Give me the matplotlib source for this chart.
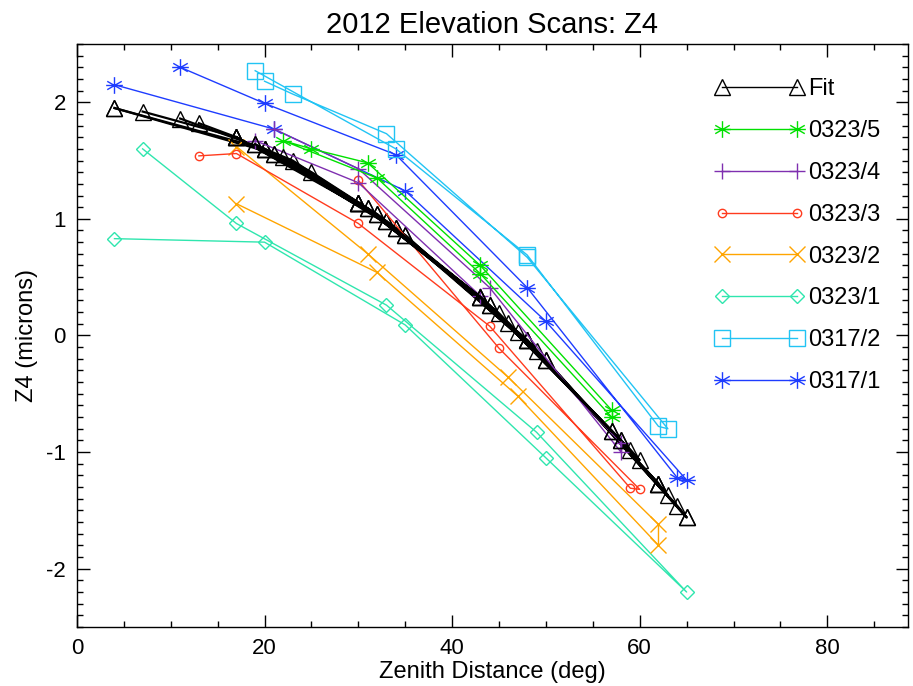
import matplotlib
matplotlib.use('Agg')
import matplotlib.pyplot as plt
from matplotlib.path import Path
from matplotlib.lines import Line2D
from matplotlib.legend_handler import HandlerLine2D

plt.rcParams['font.family'] = ['Liberation Sans', 'DejaVu Sans']
plt.rcParams['axes.unicode_minus'] = False

# fit values read at each zenith distance
fit_x = [4, 7, 11, 13, 17, 19, 20, 21, 22, 23, 25, 30, 31, 32, 33, 34, 35,
         43, 44, 45, 46, 47, 48, 49, 50, 57, 58, 59, 60, 62, 63, 64, 65]
fit_y = [1.95, 1.92, 1.86, 1.82, 1.70, 1.64, 1.60, 1.56, 1.53, 1.50, 1.40,
         1.14, 1.09, 1.04, 0.98, 0.92, 0.86, 0.33, 0.26, 0.19, 0.11, 0.03,
         -0.04, -0.13, -0.21, -0.82, -0.90, -0.98, -1.07, -1.27, -1.37,
         -1.46, -1.56]

# scans (points in acquisition order)
s0317_1_x = [4, 21, 35, 50, 65, 64, 48, 34, 20, 11]
s0317_1_y = [2.15, 1.77, 1.24, 0.12, -1.24, -1.22, 0.41, 1.55, 1.99, 2.30]

s0317_2_x = [19, 34, 48, 62, 63, 48, 33, 23, 20]
s0317_2_y = [2.27, 1.60, 0.69, -0.78, -0.80, 0.67, 1.73, 2.07, 2.18]

s0323_1_x = [7, 17, 33, 49, 65, 50, 35, 20, 4]
s0323_1_y = [1.60, 0.96, 0.26, -0.83, -2.20, -1.05, 0.09, 0.80, 0.83]

s0323_2_x = [17, 31, 46, 62, 62, 47, 32, 17]
s0323_2_y = [1.62, 0.70, -0.36, -1.62, -1.80, -0.52, 0.54, 1.13]

s0323_3_x = [13, 17, 30, 44, 59, 60, 45, 30]
s0323_3_y = [1.54, 1.56, 0.96, 0.08, -1.31, -1.32, -0.11, 1.33]

s0323_4_x = [19, 30, 43, 58, 58, 44, 30, 21]
s0323_4_y = [1.67, 1.31, 0.34, -0.92, -1.00, 0.41, 1.43, 1.77]

s0323_5_x = [57, 43, 31, 25, 22, 32, 43, 57]
s0323_5_y = [-0.64, 0.60, 1.48, 1.60, 1.67, 1.35, 0.53, -0.70]

# IDL style asterisk
ast = Path([(0, -1), (0, 1), (-0.87, -0.5), (0.87, 0.5), (-0.87, 0.5), (0.87, -0.5),
            (-1, 0), (1, 0)],
           [Path.MOVETO, Path.LINETO, Path.MOVETO, Path.LINETO, Path.MOVETO, Path.LINETO,
            Path.MOVETO, Path.LINETO])

scans = [
    ('0317/1', s0317_1_x, s0317_1_y, '#1E3CFF', ast, 12),
    ('0317/2', s0317_2_x, s0317_2_y, '#22C4F4', 's', 11),
    ('0323/1', s0323_1_x, s0323_1_y, '#2FE6AE', 'D', 7),
    ('0323/2', s0323_2_x, s0323_2_y, '#FFA500', 'x', 12),
    ('0323/3', s0323_3_x, s0323_3_y, '#FF3B1E', 'o', 6),
    ('0323/4', s0323_4_x, s0323_4_y, '#7F2FB0', '+', 12),
    ('0323/5', s0323_5_x, s0323_5_y, '#00E000', ast, 12),
]

fit_of = dict(zip(fit_x, fit_y))

fig = plt.figure(figsize=(9.13, 6.86), dpi=100)
ax = fig.add_axes([0.0843, 0.086, 0.9102, 0.850])

handles = {}
for name, xs, ys, col, mk, ms in scans:
    h, = ax.plot(xs, ys, color=col, lw=1.0, marker=mk, ms=ms, mfc='none',
                 mec=col, mew=1.0, label=name)
    handles[name] = h
    ax.plot(xs, [fit_of[x] for x in xs], color='black', lw=1.6,
            marker='^', ms=11, mfc='none', mec='black', mew=1.0)

handles['Fit'] = Line2D([], [], color='black', lw=1.0, marker='^', ms=11,
                        mfc='none', mec='black', mew=1.0)

order = ['Fit', '0323/5', '0323/4', '0323/3', '0323/2', '0323/1', '0317/2', '0317/1']
ax.legend([handles[k] for k in order], order, loc='upper left',
          bbox_to_anchor=(0.776, 0.941), frameon=False, numpoints=2,
          fontsize=17, handlelength=3.2, handletextpad=0.45,
          labelspacing=0.84, borderpad=0, borderaxespad=0,
          handler_map={Line2D: HandlerLine2D(marker_pad=0)})

ax.set_xlim(0, 88.6)
ax.set_ylim(-2.5, 2.5)
ax.set_xticks([0, 20, 40, 60, 80])
ax.set_xticks(range(0, 90, 5), minor=True)
ax.set_yticks([-2, -1, 0, 1, 2])
ax.set_yticks([v / 10 for v in range(-25, 26)], minor=True)
ax.tick_params(which='both', direction='in', top=True, right=True,
               labelsize=16, width=1.0)
ax.tick_params(which='major', length=9)
ax.tick_params(which='minor', length=4)
ax.tick_params(axis='x', which='major', pad=8)
ax.tick_params(axis='y', which='major', pad=8)
for sp in ax.spines.values():
    sp.set_linewidth(1.0)

ax.set_title('2012 Elevation Scans: Z4', fontsize=21, pad=8)
ax.set_xlabel('Zenith Distance (deg)', fontsize=17, labelpad=1)
ax.set_ylabel('Z4 (microns)', fontsize=17, labelpad=6)

plt.savefig('out.png', dpi=100)
